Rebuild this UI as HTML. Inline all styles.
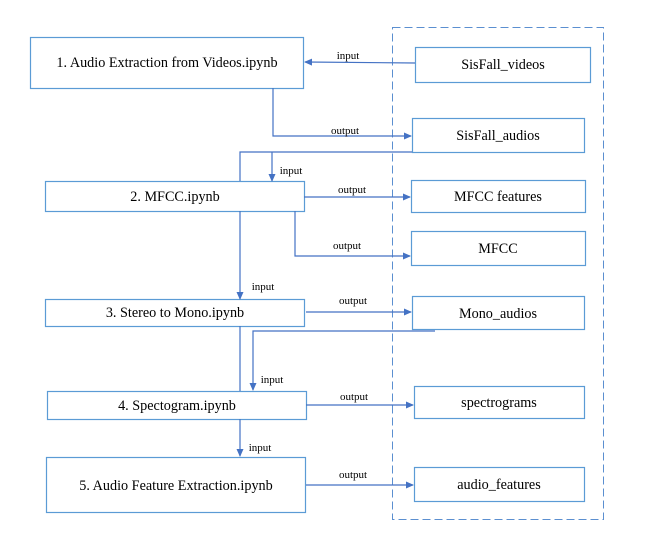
<!DOCTYPE html>
<html><head><meta charset="utf-8"><style>
html,body{margin:0;padding:0;background:#fff;}
svg{display:block;font-family:"Liberation Serif",serif;}
</style></head><body>
<svg width="671" height="560" viewBox="0 0 671 560" xmlns="http://www.w3.org/2000/svg">
<defs><marker id="a" markerWidth="8" markerHeight="8" refX="7" refY="4" orient="auto" markerUnits="userSpaceOnUse"><path d="M0,0.5 L8,4 L0,7.5 z" fill="#4472c4"/></marker></defs>
<rect x="392.5" y="27.5" width="211" height="492" fill="none" stroke="#5b8fd0" stroke-dasharray="8,4"/>
<g fill="#fff" stroke="#5b9bd5" stroke-width="1.2">
<rect x="30.5" y="37.5" width="273" height="51"/>
<rect x="415.5" y="47.5" width="175" height="35"/>
<rect x="412.5" y="118.5" width="172" height="34"/>
<rect x="45.5" y="181.5" width="259" height="30"/>
<rect x="411.5" y="180.5" width="174" height="32"/>
<rect x="411.5" y="231.5" width="174" height="34"/>
<rect x="45.5" y="299.5" width="259" height="27"/>
<rect x="412.5" y="296.5" width="172" height="33"/>
<rect x="47.5" y="391.5" width="259" height="28"/>
<rect x="414.5" y="386.5" width="170" height="32"/>
<rect x="46.5" y="457.5" width="259" height="55"/>
<rect x="414.5" y="467.5" width="170" height="34"/>
</g>
<g fill="none" stroke="#4472c4" stroke-width="1.2">
<path d="M415,63 L305,62" marker-end="url(#a)"/>
<path d="M273,88 V136 H411" marker-end="url(#a)"/>
<path d="M412,152 H240 V181"/>
<path d="M272,152 V181" marker-end="url(#a)"/>
<path d="M240,211 V299" marker-end="url(#a)"/>
<path d="M304,197 H410" marker-end="url(#a)"/>
<path d="M295,211 V256 H410" marker-end="url(#a)"/>
<path d="M306,312 H411" marker-end="url(#a)"/>
<path d="M435,331 H253 V390" marker-end="url(#a)"/>
<path d="M240,326 V391"/>
<path d="M306,405 H413" marker-end="url(#a)"/>
<path d="M240,419 V456" marker-end="url(#a)"/>
<path d="M306,485 H413" marker-end="url(#a)"/>
</g>
<g font-size="14.2" text-anchor="middle" fill="#000">
<text x="167" y="67">1. Audio Extraction from Videos.ipynb</text>
<text x="503" y="69">SisFall_videos</text>
<text x="498" y="140">SisFall_audios</text>
<text x="175" y="201">2. MFCC.ipynb</text>
<text x="498" y="201">MFCC features</text>
<text x="498" y="253">MFCC</text>
<text x="175" y="317">3. Stereo to Mono.ipynb</text>
<text x="498" y="318">Mono_audios</text>
<text x="177" y="410">4. Spectogram.ipynb</text>
<text x="499" y="407">spectrograms</text>
<text x="176" y="490">5.  Audio Feature Extraction.ipynb</text>
<text x="499" y="489">audio_features</text>
</g>
<g font-size="11" text-anchor="middle" fill="#000">
<text x="348" y="59">input</text>
<text x="345" y="134">output</text>
<text x="291" y="174">input</text>
<text x="352" y="193">output</text>
<text x="347" y="249">output</text>
<text x="263" y="290">input</text>
<text x="353" y="304">output</text>
<text x="272" y="383">input</text>
<text x="354" y="400">output</text>
<text x="260" y="451">input</text>
<text x="353" y="478">output</text>
</g>
</svg>
</body></html>
